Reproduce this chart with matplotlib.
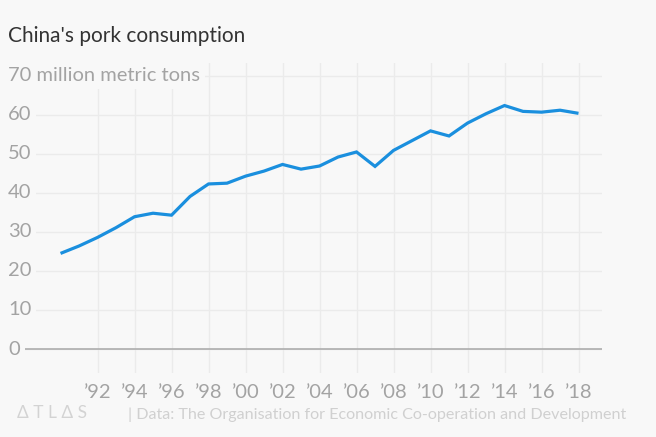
import numpy as np
import matplotlib
matplotlib.use("Agg")
import matplotlib.pyplot as plt
import matplotlib.transforms as mtransforms

# pork consumption in China, million metric tons
years = list(range(1990, 2019))
consumption = [24.5, 26.4, 28.6, 31.1, 33.9, 34.8, 34.3, 39.1, 42.3, 42.5,
               44.3, 45.6, 47.3, 46.1, 46.9, 49.2, 50.5, 46.8, 50.9, 53.4,
               55.9, 54.6, 57.9, 60.3, 62.4, 60.9, 60.7, 61.2, 60.4]

ytick_vals = [0, 10, 20, 30, 40, 50, 60, 70]
xtick_years = list(range(1992, 2019, 2))
xtick_labels = ["\u2019" + str(y)[2:] for y in xtick_years]

title = "China's pork consumption"
unit_label = "million metric tons"
source = "| Data: The Organisation for Economic Co-operation and Development"

bg = "#f8f8f8"
line_col = "#1a8fde"
grid_col = "#ebebeb"
label_col = "#a3a3a3"
font = "Lato"

plt.rcParams["font.family"] = [font, "DejaVu Sans"]

fig = plt.figure(figsize=(6.56, 4.37), dpi=100, facecolor=bg)
ax = fig.add_axes([8 / 656, (437 - 373) / 437, 594 / 656, 310 / 437])
ax.set_facecolor(bg)

ax.set_xlim(1987.16, 2019.27)
ax.set_ylim(-6.15, 73.3)

# grid
ax.set_xticks(xtick_years)
ax.set_xticklabels(xtick_labels)
ax.set_yticks(ytick_vals)
ax.grid(True, color=grid_col, linewidth=1, zorder=0)
ax.set_axisbelow(True)
ax.tick_params(axis="x", length=0, pad=8, labelsize=14.5, labelcolor=label_col)
ax.tick_params(axis="y", length=0, labelleft=False)
for s in ax.spines.values():
    s.set_visible(False)

ax.axhline(0, color="#a8a8a8", linewidth=1.1, zorder=1)

ax.plot(years, consumption, color=line_col, linewidth=2.3, zorder=3,
        solid_joinstyle="miter", solid_capstyle="butt")

# y labels sit on top of the gridlines with a background box
trans = mtransforms.blended_transform_factory(ax.transAxes, ax.transData)
for v in ytick_vals:
    txt = str(v)
    if v == ytick_vals[-1]:
        txt = str(v) + " " + unit_label
    ax.text(0, v, txt, transform=trans, ha="left", va="center",
            fontsize=14.5, color=label_col, zorder=4,
            bbox=dict(facecolor=bg, edgecolor="none", pad=3.5))

fig.text(8 / 656, 1 - 36 / 437, title, ha="left", va="center",
         fontsize=15, color="#333333")
fig.text(17 / 656, 1 - 413 / 437, "\u0394 T L \u0394 S", ha="left", va="center",
         fontsize=12.5, color="#d3d3d3")
fig.text(128 / 656, 1 - 415 / 437, source, ha="left", va="center",
         fontsize=11.6, color="#d0d0d0")

fig.savefig("out.png", dpi=100, facecolor=bg)
